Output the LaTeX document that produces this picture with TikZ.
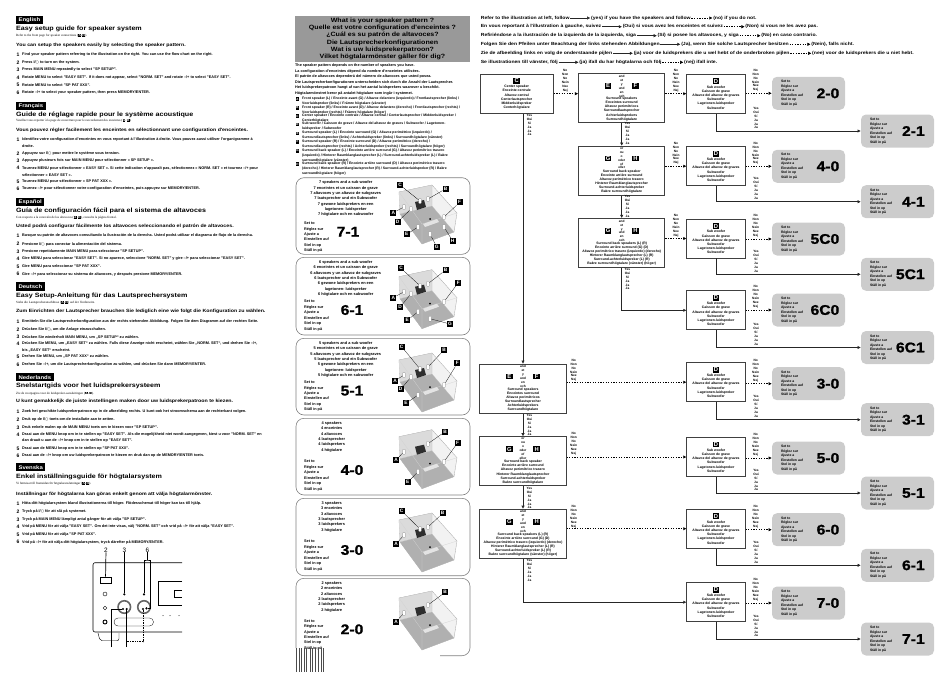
\documentclass[tikz,border=0pt]{standalone}
\usepackage{fontspec}
\setmainfont{Liberation Sans}
\newfontfamily\widefont[FakeStretch=1.15]{Liberation Sans}
\newfontfamily\bigfont[FakeStretch=1.12,FakeBold=1.2]{Liberation Sans Bold}
\newfontfamily\serffont{Liberation Serif}
\newfontfamily\symfont{DejaVu Sans}
\usepackage{tikz}
\usetikzlibrary{arrows.meta,positioning,calc}

\definecolor{headgray}{gray}{0.60}
\definecolor{resgray}{gray}{0.80}
\newcounter{lbl}
\newcommand{\pwr}{I/{\symfont ○}}
\newcommand{\ltag}[1]{{\setlength{\fboxsep}{0.3pt}\colorbox{black}{\textcolor{white}{\bfseries #1}}}}
\newcommand{\flowtag}[1]{{\fontsize{5.8}{5.8}\selectfont\setlength{\fboxsep}{0.9pt}\colorbox{black}{\makebox[5pt]{\textcolor{white}{\bfseries #1}}}}}
\newcommand{\setto}{Set to\\Réglez sur\\Ajuste a\\Einstellen auf\\Stel in op\\Ställ in på}
\newcommand{\stackyes}{Yes\\Oui\\Sí\\Ja\\Ja\\Ja}
\newcommand{\stackno}{No\\Non\\No\\Nein\\Nee\\Nej}
\newcommand{\putlbl}[4]{\stepcounter{lbl}\node[#1] (lbl\thelbl) at (#2,#3) {#4};}
\newcommand{\langblock}[8]{%
  \putlbl{langtag}{16}{#1}{#2}
  \putlbl{guidehead}{16}{#3}{#4}
  \putlbl{guidesub}{16}{#5}{#6}
  \putlbl{guidebold}{16}{#7}{#8}}
\newcommand{\stepline}[3]{\putlbl{stepnum}{16.5}{#1}{#2}\putlbl{steptxt}{22}{#1}{#3}}
\newcommand{\legline}[3]{\stepcounter{lbl}\node[legtag] (lbl\thelbl) at (297.5,#1) {#2};\putlbl{legtxt}{302}{#1-2.3}{#3}}
% panel: id, top, bottom, text centre, text, pattern, x and y of pattern
\newcommand{\spkpanel}[8]{%
  \node[panelbox, minimum height=#3pt-#2pt] (#1) at (383,{(#2+#3)/2}) {};
  \node[paneltxt] (#1t) at (#4,#2+3) {#5};
  \node[settxt, anchor=north west, font=\fontsize{3.8}{5.45}\selectfont\bfseries] (#1s) at (304,#8-10) {\setto};
  \node[bignum, anchor=center] (#1n) at (#7,#8) {#6};}
\newcommand{\roomtags}[2]{%
  \foreach \nm/\lx/\ly in {#2} {
    \node[spkbox] (#1s\nm) at (#1-\nm) {};
    \node[roomtag] (#1\nm) at (\lx,\ly) {\nm};
    \draw[leader] (#1\nm) -- (#1s\nm);
  }}
\newcommand{\pairtags}[4]{%
  \node[tagonly] (#1l) at ([xshift=-#4pt,yshift=-12.7pt]#1.north) {\flowtag{#2}};
  \node[tagonly] (#1r) at ([xshift=#4pt,yshift=-12.7pt]#1.north) {\flowtag{#3}};}

\begin{document}
\begin{tikzpicture}[
  x=1pt, y=-1pt,
  langtag/.style={anchor=west, fill=black, text=white, inner xsep=2.4pt, inner ysep=0pt, minimum height=8.3pt, font=\widefont\fontsize{5.2}{5.4}\selectfont\bfseries},
  guidehead/.style={anchor=west, inner sep=0pt, font=\widefont\fontsize{6.2}{6.4}\selectfont\bfseries},
  guidesub/.style={anchor=west, inner sep=0pt, font=\serffont\fontsize{3.2}{4}\selectfont},
  guidebold/.style={anchor=west, inner sep=0pt, font=\widefont\fontsize{4.6}{5}\selectfont\bfseries},
  stepnum/.style={anchor=west, inner sep=0pt, font=\fontsize{5}{5}\selectfont\bfseries},
  steptxt/.style={anchor=west, inner sep=0pt, font=\fontsize{3.8}{4}\selectfont\bfseries},
  legtag/.style={fill=black, text=white, inner sep=0pt, minimum size=3.6pt, font=\fontsize{3}{3}\selectfont\bfseries},
  legtxt/.style={anchor=north west, inner sep=0pt, align=left, font=\fontsize{3.45}{4.95}\selectfont\bfseries},
  panelbox/.style={draw=gray, line width=0.6pt, rounded corners=8pt, minimum width=174pt, inner sep=0pt},
  paneltxt/.style={anchor=north, inner sep=0pt, align=center, font=\fontsize{3.9}{5.35}\selectfont\bfseries},
  settxt/.style={anchor=west, inner sep=0pt, align=left, font=\fontsize{3.4}{4.53}\selectfont\bfseries},
  bignum/.style={inner sep=0pt, font=\bigfont\fontsize{14}{14}\selectfont},
  roomtag/.style={fill=black, text=white, inner sep=0pt, minimum size=6pt, font=\fontsize{4.8}{4.8}\selectfont\bfseries},
  spkbox/.style={draw=gray, fill=white, line width=0.2pt, rounded corners=0.6pt, inner sep=0pt, minimum width=2.6pt, minimum height=5pt},
  leader/.style={draw=black, line width=0.25pt},
  flowbox/.style={draw=black!75, fill=white, line width=0.8pt, inner sep=0pt, align=center, font=\fontsize{3.4}{4.2}\selectfont\bfseries},
  dbox/.style={flowbox, minimum width=58.3pt, minimum height=39pt},
  pairbox/.style={flowbox, minimum width=86.3pt, minimum height=49pt},
  tagonly/.style={inner sep=0pt},
  stacktxt/.style={inner sep=0pt, align=center, font=\fontsize{3.2}{3.95}\selectfont\bfseries},
  resbox/.style={fill=resgray, rounded corners=5pt, minimum width=73pt, minimum height=33pt, inner sep=0pt},
  introtxt/.style={anchor=west, inner sep=0.6pt, font=\widefont\fontsize{4.45}{5}\selectfont\bfseries},
  yeswire/.style={draw=black!85, line width=0.9pt, -{Latex[length=3.2pt,width=3.4pt]}},
  nowire/.style={draw=black, line width=0.8pt, dash pattern=on 1.3pt off 1.3pt, -{Latex[length=3.2pt,width=3.4pt]}},
  fpdot/.style={circle, fill=black, inner sep=0pt, minimum size=2.4pt},
  fplab/.style={inner sep=0pt, font=\fontsize{6.4}{7}\selectfont},
  fpline/.style={draw=black, line width=0.7pt},
  room/.pic={
    \draw[gray!70, line width=0.3pt, fill=gray!10] (0,0) -- (33,-7) -- (58,21) -- (55,40) -- (23,52) -- (1,22) -- cycle;
    \fill[gray!28] (0,0) -- (33,-7) -- (33,14) -- (1,22) -- cycle;
    \fill[gray!62] (1,22) -- (33,14) -- (55,40) -- (23,52) -- cycle;
    \draw[gray!50, line width=0.25pt] (0,0) -- (33,-7) -- (33,14) -- (1,22) (33,14) -- (55,40);
    \draw[gray!35, line width=0.25pt] (0,0) -- (23,32) -- (58,21) (23,32) -- (23,52);
    \fill[black!82] (16,10) -- (25,8) -- (27,15) -- (18,18) -- cycle;
    \fill[gray!22] (24,32) -- (38,27) -- (40,30) -- (26,35) -- cycle;
    \fill[black] (31,27) circle (1);
    \coordinate (-A) at (5,15); \coordinate (-B) at (29,7);
    \coordinate (-C) at (21,9); \coordinate (-D) at (12,17);
    \coordinate (-E) at (19,35); \coordinate (-F) at (45,25);
    \coordinate (-G) at (31,42); \coordinate (-H) at (45,35);
  }
]
  \useasboundingbox (0,0) rectangle (950,672);
  % left column, one block per language
  \langblock{20.2}{English}{29.2}{Easy setup guide for speaker system}{35.6}{Refer to the front page for speaker connections (\ltag{A}-\ltag{H}).}{45}{You can setup the speakers easily by selecting the speaker pattern.}
  \stepline{54.5}{1}{Find your speaker pattern referring to the illustration on the right. You can use the flow chart on the right.}
  \stepline{62.5}{2}{Press \pwr{} to turn on the system.}
  \stepline{70}{3}{Press MAIN MENU repeatedly to select "SP SETUP".}
  \stepline{77.5}{4}{Rotate MENU to select "EASY SET". If it does not appear, select "NORM. SET" and rotate –/+ to select "EASY SET".}
  \stepline{85}{5}{Rotate MENU to select "SP PAT XXX".}
  \stepline{93}{6}{Rotate –/+ to select your speaker pattern, then press MEMORY/ENTER.}
  \langblock{106}{Français}{114.5}{Guide de réglage rapide pour le système acoustique}{121}{Veuillez vous reporter à la page de couverture pour le raccordement des enceintes (\ltag{A}-\ltag{H}).}{130}{Vous pouvez régler facilement les enceintes en sélectionnant une configuration d'enceintes.}
  \stepline{139.5}{1}{Identifiez votre configuration d'enceintes en vous reportant à l'illustration à droite. Vous pouvez aussi utiliser l'organigramme à}
  \stepline{146}{}{droite.}
  \stepline{153.5}{2}{Appuyez sur \pwr{} pour mettre le système sous tension.}
  \stepline{160.5}{3}{Appuyez plusieurs fois sur MAIN MENU pour sélectionner « SP SETUP ».}
  \stepline{168}{4}{Tournez MENU pour sélectionner « EASY SET ». Si cette indication n'apparaît pas, sélectionnez « NORM. SET » et tournez –/+ pour}
  \stepline{175}{}{sélectionner « EASY SET ».}
  \stepline{181.5}{5}{Tournez MENU pour sélectionner « SP PAT XXX ».}
  \stepline{189}{6}{Tournez –/+ pour sélectionner votre configuration d'enceintes, puis appuyez sur MEMORY/ENTER.}
  \langblock{202}{Español}{210.5}{Guía de configuración fácil para el sistema de altavoces}{217.5}{Con respecto a la conexión de los altavoces (\ltag{A}-\ltag{H}), consulte la página frontal.}{226.5}{Usted podrá configurar fácilmente los altavoces seleccionando el patrón de altavoces.}
  \stepline{236}{1}{Busque su patrón de altavoces consultando la ilustración de la derecha.  Usted podrá utilizar el diagrama de flujo de la derecha.}
  \stepline{244}{2}{Presione \pwr{} para conectar la alimentación del sistema.}
  \stepline{251.5}{3}{Presione repetidamente MAIN MENU para seleccionar "SP SETUP".}
  \stepline{259}{4}{Gire MENU para seleccionar "EASY SET".  Si no aparece, seleccione "NORM. SET" y gire –/+ para seleccionar "EASY SET".}
  \stepline{266.5}{5}{Gire MENU para seleccionar "SP PAT XXX".}
  \stepline{274}{6}{Gire –/+ para seleccionar su sistema de altavoces, y después presione MEMORY/ENTER.}
  \langblock{286.5}{Deutsch}{295.7}{Easy Setup-Anleitung für das Lautsprechersystem}{302.7}{Siehe die Lautsprecheranschlüsse (\ltag{A}-\ltag{H}) auf der Vorderseite.}{311.7}{Zum Einrichten der Lautsprecher brauchen Sie lediglich eine wie folgt die Konfiguration zu wählen.}
  \stepline{321.7}{1}{Ermitteln Sie die Lautsprecherkonfiguration aus der rechts stehenden Abbildung. Folgen Sie dem Diagramm auf der rechten Seite.}
  \stepline{329.3}{2}{Drücken Sie \pwr{}, um die Anlage einzuschalten.}
  \stepline{337}{3}{Drücken Sie wiederholt MAIN MENU, um „SP SETUP“ zu wählen.}
  \stepline{344}{4}{Drücken Sie MENU, um „EASY SET“ zu wählen. Falls diese Anzeige nicht erscheint, wählen Sie „NORM. SET“, und drehen Sie –/+,}
  \stepline{350.3}{}{bis „EASY SET“ erscheint.}
  \stepline{356.7}{5}{Drehen Sie MENU, um „SP PAT XXX“ zu wählen.}
  \stepline{365}{6}{Drehen Sie –/+, um die Lautsprecherkonfiguration zu wählen, und drücken Sie dann MEMORY/ENTER.}
  \langblock{377.2}{Nederlands}{386.3}{Snelstartgids voor het luidsprekersysteem}{393.3}{Zie de voorpagina voor de luidspreker-aansluitingen (\ltag{A}-\ltag{H}).}{401.7}{U kunt gemakkelijk de juiste instellingen maken door uw luidsprekerpatroon te kiezen.}
  \stepline{412}{1}{Zoek het geschikte luidsprekerpatroon op in de afbeelding rechts. U kunt ook het stroomschema aan de rechterkant volgen.}
  \stepline{419.7}{2}{Druk op de \pwr{} toets om de installatie aan te zetten.}
  \stepline{427.3}{3}{Druk enkele malen op de MAIN MENU toets om te kiezen voor "SP SETUP".}
  \stepline{434.7}{4}{Draai aan de MENU knop om in te stellen op "EASY SET". Als die mogelijkheid niet wordt aangegeven, kiest u voor "NORM. SET" en}
  \stepline{440.7}{}{dan draait u aan de –/+ knop om in te stellen op "EASY SET".}
  \stepline{448.3}{5}{Draai aan de MENU knop om in te stellen op "SP PAT XXX".}
  \stepline{455.3}{6}{Draai aan de –/+ knop om uw luidsprekerpatroon te kiezen en druk dan op de MEMORY/ENTER toets.}
  \langblock{467.3}{Svenska}{476.7}{Enkel inställningsguide för högtalarsystem}{484}{Vi hänvisar till framsidan för högtalaranslutningar (\ltag{A}-\ltag{H}).}{494.3}{Inställningar för högtalarna kan göras enkelt genom att välja högtalarmönster.}
  \stepline{504}{1}{Hitta ditt högtalarsystem bland illustrationerna till höger. Flödesschemat till höger kan tas till hjälp.}
  \stepline{511.7}{2}{Tryck på \pwr{} för att slå på systemet.}
  \stepline{519.3}{3}{Tryck på MAIN MENU lämpligt antal gånger för att välja "SP SETUP".}
  \stepline{526.7}{4}{Vrid på MENU för att välja "EASY SET". Om det inte visas, välj "NORM. SET" och vrid på –/+ för att välja "EASY SET".}
  \stepline{534.7}{5}{Vrid på MENU för att välja "SP PAT XXX".}
  \stepline{542}{6}{Vrid på –/+ för att välja ditt högtalarsystem, tryck därefter på MEMORY/ENTER.}
  % front panel
  \draw[line width=0.6pt, rounded corners=2pt] (182,562.7) -- (93,562.7) -- (93,632) -- (182,632);
  \draw[line width=0.4pt] (182,581) -- (158,581) -- (158,605) -- (182,605);
  \draw[line width=0.3pt] (182,590) -- (174,590) -- (174,597) -- (182,597);
  \draw[line width=0.4pt, rounded corners=2pt] (98,633) -- (100,640.7) -- (119,640.7) -- (119,633);
  \draw[line width=0.3pt, rounded corners=4pt] (114,618) rectangle (153.5,626);
  \foreach \bx in {163,170,179} \fill (\bx,615.7) circle (0.5);
  \draw[line width=0.4pt] (105,594) circle (2);
  \draw[line width=0.4pt] (105,608) circle (1.8);
  \draw[line width=0.9pt] (105,622) circle (2);
  \node[circle, draw=black!60, fill=white, line width=1.6pt, minimum size=12.5pt, inner sep=0pt] (knoba) at (124.3,607) {};
  \node[circle, draw=black!60, fill=white, line width=1.6pt, minimum size=12.5pt, inner sep=0pt] (knobb) at (144,607) {};
  \node[draw=black, fill=white, line width=0.6pt, minimum width=11pt, minimum height=6.3pt, inner sep=0pt] (fpow) at (105.5,580) {};
  \node[fplab] (fp2) at (106,550) {2};
  \node[fplab] (fp3) at (124.3,550) {3};
  \node[fplab] (fp6) at (147.3,550) {6};
  \node[fpdot] (dotm) at (124.3,594.3) {};
  \node[fpdot] (dots) at (144,594.3) {};
  \node[fpdot] (dotr) at (146.5,608.3) {};
  \node[fpdot] (dota) at (123,609) {};
  \node[fpdot] (dotb) at (126.7,609) {};
  \node[fpdot] (dotc) at (143,609) {};
  \coordinate (fork) at (147.3,560);
  \coordinate (fpa) at (111,647);
  \coordinate (fpb) at (126.7,647);
  \coordinate (fpc) at (126.7,641.7);
  \draw[fpline] (fp2) -- (fpow);
  \draw[fpline] (fp3) -- (dotm);
  \draw[fpline] (fp6) -- (fork);
  \draw[fpline] (dots) |- (fork) -| (150.5,608.3) -- (dotr);
  \draw[fpline] (fpa) |- (dota);
  \draw[fpline] (fpb) -- (dotb);
  \draw[fpline, dashed, dash pattern=on 1.3pt off 1.1pt] (dotc) |- (fpc);
  % middle column
  \node[fill=headgray, minimum width=175pt, minimum height=45.7pt, inner sep=0pt, align=center, font=\widefont\fontsize{6.15}{7.33}\selectfont\bfseries] (head) at (382.5,38.8) {What is your speaker pattern ?\\Quelle est votre configuration d'enceintes ?\\¿Cuál es su patrón de altavoces?\\Die Lautsprecherkonfigurationen\\Wat is uw luidsprekerpatroon?\\Vilket högtalarmönster gäller för dig?};
  \node[anchor=north west, inner sep=0pt, align=left, font=\fontsize{3.75}{5.6}\selectfont\bfseries] (intropara) at (295,63.5) {The speaker pattern depends on the number of speakers you have.\\La configuration d'enceintes dépend du nombre d'enceintes utilisées.\\El patrón de altavoces dependerá del número de altavoces que usted posea.\\Die Lautsprecherkonfigurationen unterscheiden sich durch die Anzahl der Lautsprecher.\\Het luidsprekerpatroon hangt af van het aantal luidsprekers waarover u beschikt.\\Högtalarmönstret beror på antalet högtalare som ingår i systemet.};
  \legline{99}{A}{Front speaker (L) / Enceinte avant (G) / Altavoz delantero (izquierdo) / Frontlautsprecher (links) /\\Voorluidspreker (links) / Främre högtalare (vänster)}
  \legline{107.7}{B}{Front speaker (R) / Enceinte avant (D) / Altavoz delantero (derecho) / Frontlautsprecher (rechts) /\\Voorluidspreker (rechts) / Främre högtalare (höger)}
  \legline{116}{C}{Center speaker / Enceinte centrale / Altavoz central / Centerlautsprecher / Middenluidspreker /\\Centerhögtalare}
  \legline{124.3}{D}{Sub woofer / Caisson de grave / Altavoz del altavoz de graves / Subwoofer / Lagetonen-\\luidspreker / Subwoofer}
  \legline{133.3}{E}{Surround speaker (L) / Enceinte surround (G) / Altavoz perimétrico (izquierdo) /\\Surroundlautsprecher (links) / Achterluidspreker (links) / Surroundhögtalare (vänster)}
  \legline{141.7}{F}{Surround speaker (R) / Enceinte surround (D) / Altavoz perimétrico (derecho) /\\Surroundlautsprecher (rechts) / Achterluidspreker (rechts) / Surroundhögtalare (höger)}
  \legline{150.7}{G}{Surround back speaker (L) / Enceinte arrière surround (G) / Altavoz perimétrico trasero\\(izquierdo) / Hinterer Raumklanglautsprecher (L) / Surround-achterluidspreker (L) / Bakre\\surroundhögtalare (vänster)}
  \legline{164}{H}{Surround back speaker (R) / Enceinte arrière surround (D) / Altavoz perimétrico trasero\\(derecho) / Hinterer Raumklanglautsprecher (R) / Surround-achterluidspreker (R) / Bakre\\surroundhögtalare (höger)}
  \spkpanel{p71}{177.7}{254.3}{345.7}{7 speakers and a sub woofer\\7 enceintes et un caisson de grave\\7 altavoces y un altavoz de subgraves\\7 lautsprecher und ein Subwoofer\\7 gewone luidsprekers en een\\lagetonen- luidspreker\\7 högtalare och en subwoofer}{7-1}{348}{231.7}
  \spkpanel{p61}{257.3}{335}{345.7}{6 speakers and a sub woofer\\6 enceintes et un caisson de grave\\6 altavoces y un altavoz de subgraves\\6 lautsprecher und ein Subwoofer\\6 gewone luidsprekers en een\\lagetonen- luidspreker\\6 högtalare och en subwoofer}{6-1}{352}{310}
  \spkpanel{p51}{338.3}{415}{345.7}{5 speakers and a sub woofer\\5 enceintes et un caisson de grave\\5 altavoces y un altavoz de subgraves\\5 lautsprecher und ein Subwoofer\\5 gewone luidsprekers en een\\lagetonen- luidspreker\\5 högtalare och en subwoofer}{5-1}{352}{390.7}
  \spkpanel{p40}{418.3}{495}{331.7}{4 speakers\\4 enceintes\\4 altavoces\\4 lautsprecher\\4 luidsprekers\\4 högtalare}{4-0}{352}{470}
  \spkpanel{p30}{498.3}{575.7}{331.7}{3 speakers\\3 enceintes\\3 altavoces\\3 lautsprecher\\3 luidsprekers\\3 högtalare}{3-0}{352}{550}
  \draw[draw=gray, line width=0.6pt, rounded corners=8pt] (296,648) -- (296,578.3) -- (470,578.3) -- (470,655.7) -- (440,655.7);
  \node[paneltxt] (p20t) at (331.7,581.3) {2 speakers\\2 enceintes\\2 altavoces\\2 lautsprecher\\2 luidsprekers\\2 högtalare};
  \node[settxt, anchor=north west, font=\fontsize{3.8}{5.45}\selectfont\bfseries] (p20s) at (304,619.3) {\setto};
  \node[bignum] (p20n) at (352,629.3) {2-0};
  \foreach \bx in {296,298.5,301,303.5,306,309.5,312,314.5,318,320.5,323} \fill[black!70] (\bx,648) rectangle (\bx+1.3,672);
  % rooms and speaker tags
  \pic (r71) at (399,192) {room};
  \roomtags{r71}{C/400/185,B/445.7/188.7,F/459.7/202.3,A/393.3/212.7,D/397.7/221.7,E/406.7/234.3,G/436.7/246.7,H/452.7/241}
  \pic (r61) at (399,276.7) {room};
  \roomtags{r61}{C/401/268.3,B/445.7/270,F/458.3/282.7,A/393.3/297.7,D/400/307.3,E/407.3/320.3,G/450/324}
  \pic (r51) at (399,360) {room};
  \roomtags{r51}{C/401.7/346.7,B/444/350,F/457.3/363.3,A/395/380.7,D/400.7/389.3,E/406/403.3}
  \pic (r40) at (399,436.7) {room};
  \roomtags{r40}{B/445/431.7,F/457.7/442.7,A/396/460,E/407.7/482.3}
  \pic (r30) at (399,520) {room};
  \roomtags{r30}{C/401.7/511,B/442.7/513.3,A/396/544}
  \pic (r20) at (399,598) {room};
  \roomtags{r20}{B/445/592.3,A/396/621.7}
  % right side, legend of the arrows
  \foreach \yy/\ta/\tb/\tc [count=\k] in {
    18/{Refer to the illustration at left, follow}/{(yes) if you have the speakers and follow}/{(no) if you do not.},
    26.7/{En vous reportant à l'illustration à gauche, suivez}/{(Oui) si vous avez les enceintes et suivez}/{(Non) si vous ne les avez pas.},
    35.7/{Refiriéndose a la ilustración de la izquierda de la izquierda, siga}/{(Sí) si posee los altavoces, y siga}/{(No) en caso contrario.},
    44.3/{Folgen Sie den Pfeilen unter Beachtung der links stehenden Abbildungen}/{(Ja), wenn Sie solche Lautsprecher besitzen}/{(Nein), falls nicht.},
    53.3/{Zie de afbeelding links en volg de onderstaande pijlen}/{(ja) voor de luidsprekers die u wel hebt of de onderbroken pijlen}/{(nee) voor de luidsprekers die u niet hebt.},
    62.3/{Se illustrationen till vänster, följ}/{(ja) ifall du har högtalarna och följ}/{(nej) ifall inte.}} {
    \node[introtxt] (ia\k) at (480,\yy) {\ta};
    \node[introtxt, right=20pt of ia\k] (ib\k) {\tb};
    \node[introtxt, right=21pt of ib\k] (ic\k) {\tc};
    \draw[yeswire, line width=0.5pt] (ia\k) -- (ib\k);
    \draw[nowire, line width=0.5pt] (ib\k) -- (ic\k);
  }
  % flow chart, sub woofer boxes and the patterns they lead to
  \foreach \k/\dy/\pa/\ya/\pb/\yb in {1/93.7/2-0/93.3/2-1/131,2/166.2/4-0/166.3/4-1/201.7,3/238.5/5C0/239/5C1/274.3,4/310.3/6C0/310/6C1/347.5,5/382.2/3-0/383.7/3-1/419.7,6/457/5-0/458/5-1/493,7/528.7/6-0/529.7/6-1/565.3,8/602.2/7-0/603/7-1/639} {
    \node[dbox] (d\k) at (716,\dy) {\flowtag{D}\\[0.6pt]Sub woofer\\Caisson de grave\\Altavoz del altavoz de graves\\Subwoofer\\Lagetonen-luidspreker\\Subwoofer};
    \node[resbox] (ra\k) at (808.5,\ya) {};
    \node[settxt] (ra\k t) at ([xshift=9pt]ra\k.west) {\setto};
    \node[bignum, anchor=east] (ra\k n) at ([xshift=-5.7pt]ra\k.east) {\pa};
    \node[resbox] (rb\k) at (897.5,\yb) {};
    \node[settxt] (rb\k t) at ([xshift=9pt]rb\k.west) {\setto};
    \node[bignum, anchor=east] (rb\k n) at ([xshift=-9.3pt]rb\k.east) {\pb};
    \draw[nowire] (ra\k.west -| d\k.east) -- (ra\k.west);
    \draw[yeswire] (d\k.south) |- (rb\k.west);
    \node[stacktxt] (dn\k) at (755.7,\ya-13) {\stackno};
    \node[stacktxt] (dy\k) at (756,\yb-13) {\stackyes};
  }
  \node[flowbox, minimum width=73.3pt, minimum height=39.3pt] (c) at (516.7,93.7) {\flowtag{C}\\[0.6pt]Center speaker\\Enceinte centrale\\Altavoz central\\Centerlautsprecher\\Middenluidspreker\\Centerhögtalare};
  % pair boxes
  \foreach \nm/\xx/\yy/\ll/\lr/\stk/\txt/\dd in {
    b1/621.7/98.2/E/F/{and\\et\\y\\und\\en\\och}/{Surround speakers\\Enceintes surround\\Altavoz perimétricos\\Surroundlautsprecher\\Achterluidsprekers\\Surroundhögtalare}/13.7,
    b2/621.7/170.7/G/H/{or\\ou\\o\\oder\\of\\eller}/{Surround back speaker\\Enceinte arrière surround\\Altavoz perimétrico trasero\\Hinterer Raumklanglautsprecher\\Surround-achterluidspreker\\Bakre surroundhögtalare}/13.7,
    b3/621.7/243/G/H/{and\\et\\y\\und\\en\\och}/{Surround back speakers (L) (R)\\Enceinte arrière surround (G) (D)\\Altavoz perimétrico trasero (izquierdo) (derecho)\\Hinterer Raumklanglautsprecher (L) (R)\\Surround-achterluidspreker (L) (R)\\Bakre surroundhögtalare (vänster) (höger)}/13.7,
    a1/523/388.7/E/F/{and\\et\\y\\und\\en\\och}/{Surround speakers\\Enceintes surround\\Altavoz perimétricos\\Surroundlautsprecher\\Achterluidsprekers\\Surroundhögtalare}/13.7,
    a2/523/461.3/G/H/{or\\ou\\o\\oder\\of\\eller}/{Surround back speaker\\Enceinte arrière surround\\Altavoz perimétrico trasero\\Hinterer Raumklanglautsprecher\\Surround-achterluidspreker\\Bakre surroundhögtalare}/13.7,
    a3/523/533.8/G/H/{and\\et\\y\\und\\en\\och}/{Surround back speakers (L) (R)\\Enceinte arrière surround (G) (D)\\Altavoz perimétrico trasero (izquierdo) (derecho)\\Hinterer Raumklanglautsprecher (L) (R)\\Surround-achterluidspreker (L) (R)\\Bakre surroundhögtalare (vänster) (höger)}/13.7} {
    \node[pairbox] (\nm) at (\xx,\yy) {};
    \node[stacktxt, anchor=north] (\nm s) at ([yshift=-1.5pt]\nm.north) {\stk};
    \node[stacktxt, anchor=south, font=\fontsize{3.4}{4.1}\selectfont\bfseries] (\nm t) at ([yshift=2pt]\nm.south) {\txt};
    \pairtags{\nm}{\ll}{\lr}{\dd}
  }
  \draw[nowire] (c.east |- d1.west) -- (b1.west |- d1.west);
  \draw[nowire] (b1.east |- d1.west) -- (d1.west);
  \draw[nowire] (b2.east |- d2.west) -- (d2.west);
  \draw[nowire] (b3.east |- d3.west) -- (d3.west);
  \draw[nowire] (a1.east |- d5.west) -- (d5.west);
  \draw[nowire] (a2.east |- d6.west) -- (d6.west);
  \draw[nowire] (a3.east |- d7.west) -- (d7.west);
  \draw[yeswire] (b1) -- (b2);
  \draw[yeswire] (b2) -- (b3);
  \draw[yeswire] (b3.south) |- (d4.west);
  \draw[yeswire] (c.south -| a1.north) -- (a1.north);
  \draw[yeswire] (a1) -- (a2);
  \draw[yeswire] (a2) -- (a3);
  \draw[yeswire] (a3.south) |- (d8.west);
  % yes and no stacks beside those wires
  \foreach \xx/\yy [count=\k] in {565.3/81,676/81,676/153.3,676/225.7,573.7/370.3,573.7/444,573.7/517} \node[stacktxt] (nst\k) at (\xx,\yy) {\stackno};
  \foreach \xx/\yy [count=\k] in {529.5/125,627.5/133.7,627.5/206.7,627.5/279,529.5/425,529.5/498,529.5/570.5} \node[stacktxt] (yst\k) at (\xx,\yy) {\stackyes};
\end{tikzpicture}
\end{document}
